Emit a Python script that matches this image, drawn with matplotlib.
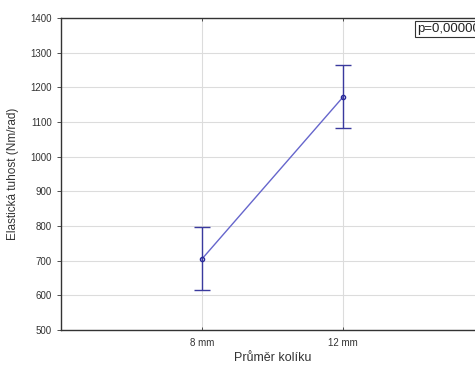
import numpy as np
import matplotlib.pyplot as plt

plt.rcParams['font.family'] = ['Liberation Sans', 'DejaVu Sans']

# mean stiffness with confidence interval per pin diameter
categories = ['8 mm', '12 mm']
means = [705, 1172]
ci_low = [615, 1083]
ci_high = [797, 1264]
p_text = 'p=0,00000'

x = np.arange(len(categories))
means = np.array(means)
yerr = np.array([means - np.array(ci_low), np.array(ci_high) - means])

fig = plt.figure(figsize=(4.75, 3.65), dpi=100)
ax = fig.add_axes([0.1284, 0.0959, 0.8906, 0.8548])

ax.plot(x, means, color='#6666cc', lw=1.0, zorder=3)
ax.errorbar(x, means, yerr=yerr, fmt='none', ecolor='#3a3a9e', elinewidth=1.0,
            capsize=6, capthick=1.0, zorder=3)
ax.plot(x, means, ls='none', marker='o', ms=3, mfc='none', mec='#2a2a9a',
        mew=1.0, zorder=4)

ax.set_xlim(-1, 2)
ax.set_ylim(500, 1400)
ax.set_xticks(x)
ax.set_xticklabels(categories)
ax.set_yticks(np.arange(500, 1401, 100))

ax.grid(True, color='#dcdcdc', lw=0.8)
ax.set_axisbelow(True)
for side in ['left', 'bottom', 'top']:
    ax.spines[side].set_color('#333333')
    ax.spines[side].set_linewidth(1.0)
ax.spines['right'].set_visible(False)

ax.tick_params(axis='y', labelsize=7, colors='#333333', length=3, width=0.6)
ax.tick_params(axis='x', labelsize=7, colors='#333333', length=2, width=0.6,
               direction='in', top=True, pad=6)

ax.set_xlabel('Průměr kolíku', fontsize=9, color='#333333', labelpad=3)
ax.set_ylabel('Elastická tuhost (Nm/rad)', fontsize=8.5, color='#333333', labelpad=8)

ax.text(0.842, 0.985, p_text, transform=ax.transAxes, fontsize=9.5, va='top', ha='left',
        color='#222222',
        bbox=dict(boxstyle='square,pad=0.15', fc='white', ec='#333333', lw=0.8))

fig.savefig('out.png', dpi=100)
